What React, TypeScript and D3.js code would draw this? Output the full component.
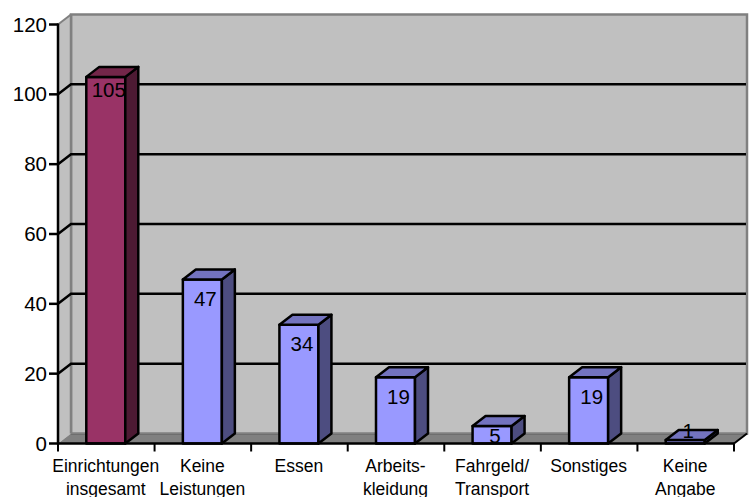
import React from "react";
import * as d3 from "d3";

const categories: string[][] = [
  ["Einrichtungen", "insgesamt"],
  ["Keine", "Leistungen"],
  ["Essen"],
  ["Arbeits-", "kleidung"],
  ["Fahrgeld/", "Transport"],
  ["Sonstiges"],
  ["Keine", "Angabe"],
];
const values = [105, 47, 34, 19, 5, 19, 1];
const yTicks = [0, 20, 40, 60, 80, 100, 120];

const W = 752;
const H = 497;
const left = 58;
const right = 734;
const bottom = 443.5;
const top = 24.5;
const depthX = 13;
const depthY = 10;
const font = "'Liberation Sans', Arial, sans-serif";

const palette = {
  accent: { front: "#993366", side: "#4d1a33", top: "#732649" },
  base: { front: "#9999ff", side: "#4d4d80", top: "#7373bf" },
};

const poly = (pts: [number, number][]) => pts.map((p) => p.join(",")).join(" ");

// Baseline of a value label: tall bars carry it inside near the top, short
// bars keep it resting on the axis, and the flattest one lets it rise above.
const labelBaseline = (v: number, yTop: number) => {
  if (v >= 100) return yTop + 20;
  if (v >= 10) return yTop + 26.5;
  if (v >= 5) return yTop + 17;
  return yTop - 2;
};

export default function App() {
  const x = d3
    .scaleBand<number>()
    .domain(d3.range(values.length))
    .range([left, right])
    .paddingInner(0);
  const y = d3.scaleLinear().domain([0, 120]).range([bottom, top]);
  const barW = 39;

  return (
    <svg
      width={W}
      height={H}
      viewBox={`0 0 ${W} ${H}`}
      style={{ position: "absolute", left: 0, top: 0, background: "#fff" }}
      fontFamily={font}
    >
      {/* Back wall */}
      <rect
        x={left + depthX}
        y={top - depthY}
        width={right - left}
        height={bottom - top}
        fill="#c0c0c0"
        stroke="#808080"
        strokeWidth={2.5}
      />
      {/* Side wall */}
      <polygon
        points={poly([
          [left, top],
          [left + depthX, top - depthY],
          [left + depthX, bottom - depthY],
          [left, bottom],
        ])}
        fill="#c0c0c0"
      />
      <line x1={left} y1={top} x2={left + depthX} y2={top - depthY} stroke="#808080" strokeWidth={2} />
      <line
        x1={left + depthX}
        y1={top - depthY}
        x2={left + depthX}
        y2={bottom - depthY}
        stroke="#808080"
        strokeWidth={2.5}
      />
      {/* Floor */}
      <polygon
        points={poly([
          [left, bottom],
          [left + depthX, bottom - depthY],
          [right + depthX, bottom - depthY],
          [right, bottom],
        ])}
        fill="#808080"
      />
      <line
        x1={left + depthX}
        y1={bottom - depthY + 1}
        x2={right + depthX}
        y2={bottom - depthY + 1}
        stroke="#6e6e6e"
        strokeWidth={1}
      />

      {/* Gridlines across the walls */}
      {yTicks.slice(1, -1).map((t) => (
        <g key={t} stroke="#000" strokeWidth={2.5} fill="none">
          <polyline
            points={poly([
              [left, y(t)],
              [left + depthX, y(t) - depthY],
              [right + depthX - 1, y(t) - depthY],
            ])}
          />
        </g>
      ))}

      {/* Value axis */}
      <line x1={left} y1={top - 1} x2={left} y2={bottom + 1} stroke="#000" strokeWidth={2.5} />
      {yTicks.map((t) => (
        <g key={t}>
          <line x1={left - 9} x2={left} y1={y(t)} y2={y(t)} stroke="#000" strokeWidth={2.5} />
          <text x={left - 11} y={y(t) + 7} textAnchor="end" fontSize={20.5} fill="#000">
            {t}
          </text>
        </g>
      ))}

      {/* Bars */}
      {values.map((v, i) => {
        const cx = (x(i) as number) + x.bandwidth() / 2;
        const x0 = cx - barW / 2 - 0.5;
        const x1 = cx + barW / 2 - 0.5;
        const yT = y(v);
        const c = i === 0 ? palette.accent : palette.base;
        return (
          <g key={i} stroke="#000" strokeWidth={2.5} strokeLinejoin="round">
            <rect x={x0} y={yT} width={barW} height={bottom - yT} fill={c.front} />
            <polygon
              points={poly([
                [x1, yT],
                [x1 + depthX, yT - depthY],
                [x1 + depthX, bottom - depthY],
                [x1, bottom],
              ])}
              fill={c.side}
            />
            <polygon
              points={poly([
                [x0, yT],
                [x0 + depthX, yT - depthY],
                [x1 + depthX, yT - depthY],
                [x1, yT],
              ])}
              fill={c.top}
            />
          </g>
        );
      })}

      {/* Category axis */}
      <line x1={left} y1={bottom} x2={right} y2={bottom} stroke="#000" strokeWidth={2.5} />
      <line x1={right} y1={bottom} x2={right + depthX} y2={bottom - depthY} stroke="#000" strokeWidth={2} />
      {d3.range(values.length + 1).map((i) => {
        const tx = left + i * x.step();
        return <line key={i} x1={tx} x2={tx} y1={bottom} y2={bottom + 8} stroke="#000" strokeWidth={2} />;
      })}

      {/* Bar value labels */}
      {values.map((v, i) => (
        <text
          key={i}
          x={(x(i) as number) + x.bandwidth() / 2 + 2.5}
          y={labelBaseline(v, y(v))}
          textAnchor="middle"
          fontSize={20.5}
          fill="#000"
        >
          {v}
        </text>
      ))}

      {/* Category labels */}
      {categories.map((lines, i) => (
        <text key={i} textAnchor="middle" fontSize={17.5} fill="#000">
          {lines.map((l, j) => (
            <tspan key={j} x={(x(i) as number) + x.bandwidth() / 2 - 0.5} y={472 + j * 23}>
              {l}
            </tspan>
          ))}
        </text>
      ))}
    </svg>
  );
}
